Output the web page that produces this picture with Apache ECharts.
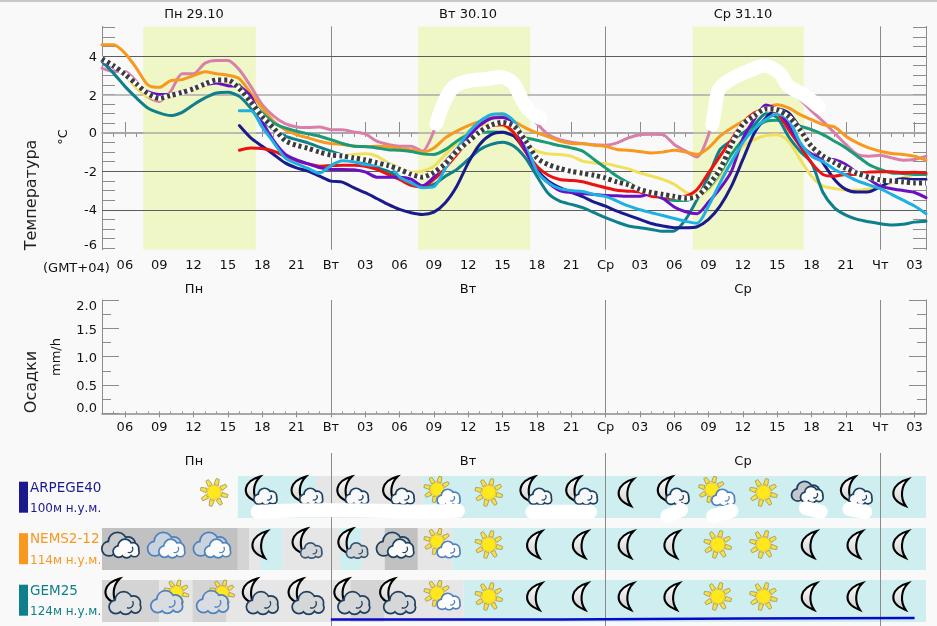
<!DOCTYPE html>
<html>
<head>
<meta charset="utf-8">
<style>html,body{margin:0;padding:0;background:#f9f9f9}#c{width:937px;height:626px}</style>
<script src="https://cdn.jsdelivr.net/npm/echarts@6/dist/echarts.min.js"></script>
</head>
<body>
<div id="c"></div>
<script>
// hours since Mon 00:00, one value per hour from 04 to 76
const hours = [];
for (let h = 4; h <= 76; h++) hours.push(h);
const n12 = new Array(12).fill(null);

const pink = [3.37,3.2,3.2,2.68,1.87,1.64,2.16,3.08,3.08,3.63,3.77,3.77,3.29,2.42,1.47,.87,.48,.31,.28,.31,.17,
  .17,.05,-.05,-.43,-.6,-.69,-.69,-.95,.09,
  1.8,2.5,2.7,2.8,2.85,2.85,2.3,1.3,.5,-.09,-.35,-.48,-.55,-.62,-.64,-.52,-.26,
  -.09,-.07,-.09,-.6,-.95,-1.25,-.1,2.2,2.75,3.1,3.3,3.45,3.15,2.4,1.75,1.15,.6,0,-.6,-1.12,-1.21,-1.16,-1.3,-1.42,-1.38,-1.21];
const orange = [4.58,4.58,4.15,3.37,2.5,2.37,2.72,2.77,2.98,3.18,3.08,3.0,2.82,2.07,1.3,.6,.17,-.09,-.26,-.43,-.55,
  -.6,-.68,-.72,-.7,-.72,-.8,-.88,-1.0,-.78,
  -.26,.09,.38,.6,.78,.87,.6,.26,0,-.2,-.43,-.55,-.57,-.64,-.7,-.86,-.9,
  -.97,-1.04,-1.0,-.9,-1.0,-1.12,-.78,-.17,.26,.6,.95,1.3,1.47,1.3,.95,.69,.43,.31,-.17,-.52,-.78,-.95,-1.07,-1.12,-1.21,-1.42];
const teal = [3.72,3.11,2.42,1.82,1.3,1.04,.9,1.07,1.47,1.82,2.08,2.11,1.9,1.3,.69,.17,-.17,-.35,-.52,-.74,-.95,
  -1.15,-1.35,-1.55,-1.8,-2,-2.3,-2.6,-2.8,
  -2.68,-2.25,-1.9,-1.38,-.87,-.6,-.48,-.69,-1.3,-2.25,-3.15,-3.55,-3.72,-3.89,-4.15,-4.41,-4.64,-4.84,
  -4.93,-5.02,-5.12,-5.1,-4.5,-3.46,-2.25,-.87,-.4,0,.43,1.0,.8,-.2,-.95,-1.55,-3.1,-3.9,-4.28,-4.5,-4.62,-4.72,-4.79,-4.75,-4.64,-4.6];
const green = n12.concat([2.5,1.73,1.04,.52,.26,.09,-.05,-.17,-.35,
  -.55,-.69,-.71,-.78,-.87,-.9,-.97,-1.09,-1.12,
  -.87,-.43,-.09,.03,.05,.03,-.14,-.26,-.38,-.52,-.66,-.78,-.95,-1.38,-1.82,-2.25,-2.6,
  -2.94,-3.2,-3.41,-3.51,-3.51,-3.29,-2.85,-2.08,-1.12,-.35,.26,.6,.66,.48,.35,.17,-.09,-.43,-.78,-1.21,-1.64,-1.9,-2.08,-2.11,-2.16,-2.16]);
const red = n12.concat([-.9,-.78,-.81,-.95,-1.21,-1.44,-1.61,-1.73,-1.7,
  -1.68,-1.68,-1.73,-1.9,-2.16,-2.42,-2.73,-2.82,-2.42,
  -1.82,-1.12,-.43,.09,.38,.43,0,-.95,-1.73,-2.2,-2.42,-2.47,-2.54,-2.7,-2.85,-2.98,-3.03,
  -3.08,-3.29,-3.33,-3.37,-3.29,-2.94,-2.08,-1.21,-.35,.52,1.04,1.21,1.04,.17,-.69,-1.56,-2.16,-2.25,-2.16,-2.16,-2.04,-2.02,-2.02,-2.08,-2.05,-2.08]);
const navy = n12.concat([.38,-.26,-.69,-1.12,-1.56,-1.82,-1.99,-2.25,-2.51,
  -2.56,-2.85,-3.11,-3.41,-3.72,-3.98,-4.15,-4.24,-4.12,
  -3.63,-2.77,-1.56,-.6,-.09,.03,-.17,-.95,-1.9,-2.51,-2.85,-3.08,-3.32,-3.6,-3.81,-4.07,-4.29,
  -4.5,-4.71,-4.84,-4.93,-4.93,-4.88,-4.5,-3.81,-2.77,-1.38,0,.78,1.25,1.04,.26,-.69,-1.56,-2.42,-2.94,-3.08,-3.06,-2.8,-2.51,-2.39,-2.42,-2.42]);
const yellow = [3.89,3.55,3.03,2.34,1.9,1.76,1.87,2.08,2.21,2.46,2.6,2.56,2.34,1.73,.95,.26,-.35,-.6,-.73,-.95,-1.12,
  -1.2,-1.12,-1.09,-1.21,-1.56,-1.82,-2.04,-1.99,-1.73,
  -1.12,-.52,.09,.38,.43,.38,0,-.52,-.95,-1.09,-1.12,-1.21,-1.47,-1.56,-1.59,-1.73,-1.87,
  -2.08,-2.25,-2.42,-2.68,-3.08,-3.3,-2.94,-2.25,-1.56,-.69,-.35,-.14,-.09,-.43,-1.38,-2.25,-2.77,-2.89,-2.98,-2.98,-2.91,-2.77,-2.6,-2.34,-2.16,-2.16];
const purple = [3.8,3.4,3.0,2.5,2.15,2.0,2.0,2.15,2.3,2.5,2.6,2.45,2.4,1.9,.6,-.4,-1.1,-1.4,-1.6,-1.8,-1.9,
  -1.9,-1.92,-2.03,-2.3,-2.3,-2.3,-2.4,-2.75,-2.3,
  -1.5,-.85,-.2,.4,.75,.8,.5,-.9,-2.0,-2.6,-3,-3.1,-3.15,-3.2,-3.25,-3.27,-3.3,
  -3.3,-3.15,-3.4,-3.85,-4.1,-4.2,-3.6,-2.9,-2,-.3,.7,1.45,1.2,.4,-.6,-1.1,-1.35,-1.4,-1.64,-2.08,-2.4,-2.77,-2.9,-3.0,-3.1,-3.37];
const skyblue = n12.concat([1.15,1.15,.3,-.5,-1.3,-1.6,-1.85,-2.1,-1.7,
  -1.45,-1.5,-1.65,-1.7,-1.6,-2.3,-2.6,-2.85,-2.8,
  -1.85,-.85,0,.6,.95,1.0,.6,-.5,-2.0,-2.6,-2.9,-3.0,-3.05,-3.2,-3.3,-3.55,-3.8,
  -4,-4.15,-4.3,-4.45,-4.6,-4.7,-3.8,-2.6,-1.5,-.5,.2,.7,1.0,.7,-.5,-1.2,-1.5,-1.9,-2.2,-2.5,-2.7,-2.9,-3.2,-3.5,-3.8,-4.2]);
const mean = [3.85,3.5,3.05,2.55,2.05,1.8,1.95,2.1,2.3,2.55,2.75,2.75,2.3,1.6,.85,.25,-.4,-.65,-.8,-1.0,-1.15,
  -1.2,-1.3,-1.4,-1.55,-1.7,-1.9,-2.15,-2.3,-2.05,
  -1.6,-.95,-.45,.05,.4,.55,.35,-.4,-1.3,-1.65,-1.85,-2.0,-2.1,-2.2,-2.35,-2.55,-2.7,
  -2.95,-3.1,-3.2,-3.3,-3.4,-3.3,-2.7,-1.9,-.6,.45,.9,1.25,1.2,.85,.15,-.7,-1.2,-1.55,-1.85,-2.1,-2.3,-2.45,-2.5,-2.55,-2.6,-2.6];

// white scribbles over the picture, [hour, degC] pairs
const scribbleTue = [[33.2,.48],[34,1.73],[34.8,2.42],[36.2,2.73],[37.6,2.8],[38.8,2.91],[39.9,2.6],[40.7,1.73],[41.4,1.12],[42.3,.78]];
const scribbleWed = [[57.33,.43],[57.5,1.04],[57.9,2.25],[58.9,2.77],[60.4,3.2],[61.85,3.49],[63.2,3.11],[64,2.42],[65.3,1.99],[66.66,1.35]];
// same in the icon strip, [hour, row units], null splits strokes
const scribbleIcons = [[17.6,.69],[21.3,.66],[26.5,.66],[31.7,.69],[35.1,.67],null,
  [41.6,.69],[46.66,.69],null,[53.4,.77],[54.6,.65],null,[57.4,.77],[59,.67],null,
  [65.5,.615],[66.8,.69],null,[69.3,.635],[70.7,.69]];

const dayBands = [[7.6,17.44],[31.62,41.41],[55.63,65.33]];
const dayLines = [24,48,72];
const darkGrid = [4,-2,-4];
const lightGrid = [2,0];
// tick labels sit a little off their ticks in the original, hence separate positions
const tempLabelAt = [-5.88,-4.04,-2.07,-.06,1.91,3.89];
const tempLabels = ['-6','-4','-2','0','2','4'];
const tempTicks = [-6,-5.5,-5,-4.5,-4,-3.5,-3,-2.5,-2,-1.5,-1,-.5,0,.5,1,1.5,2,2.5,3,3.5,4,4.5,5,5.5];
const rainLabelAt = [.078,.47,.97,1.46,1.89];
const rainLabels = ['0.0','0.5','1.0','1.5','2.0'];
const rainMajor = [0,.5,1,1.5,2];
const rainMinor = [.25,.75,1.25,1.75];
const tickHours = [6,9,12,15,18,21,24,27,30,33,36,39,42,45,48,51,54,57,60,63,66,69,72,75];
const tickNames = ['06','09','12','15','18','21','Вт','03','06','09','12','15','18','21','Ср','03','06','09','12','15','18','21','Чт','03'];
const dayTitles = ['Пн 29.10','Вт 30.10','Ср 31.10'];
const dayNames = ['Пн','Вт','Ср'];
const dayCentres = [194,468,743];

const models = ['ARPEGE40','NEMS2-12','GEM25'];
const heights = ['100м н.у.м.','114м н.у.м.','124м н.у.м.'];
const modelColors = ['#1a1a8c','#f7981f','#0f7f8c'];

// sky background per model row: [from, to, shade]
const shades = {clear:'#cfeeef', light:'#e6e6e6', mid:'#d4d4d4', dark:'#c1c1c1'};
const cellsArpege = [[15.87,22.7,'clear'],[22.7,32,'light'],[32,76,'clear']];
const cellsNems = [[4,15.87,'dark'],[15.87,16.85,'mid'],[16.85,17.8,'light'],[17.8,19.8,'clear'],[19.8,24.8,'light'],[24.8,26.7,'clear'],[26.7,28.7,'light'],[28.7,31.6,'dark'],[31.6,34.6,'light'],[34.6,76,'clear']];
const cellsGem = [[4,9,'mid'],[9,11.9,'light'],[11.9,14.9,'mid'],[14.9,25.7,'light'],[25.7,28.7,'mid'],[28.7,35.6,'light'],[35.6,76,'clear']];

const iconHours = [5.8,9.8,13.8,17.8,21.8,25.8,29.8,33.8,37.8,41.8,45.8,49.8,53.8,57.8,61.8,65.8,69.8,73.8];
const iconsArpege = [null,null,'sun','moonCloud','moonCloud','moonCloud','moonCloud','sunCloud','sun','moonCloud','moonCloud','moon','moonCloud','sunCloud','sun','greyClouds','moonCloud','moon'];
const iconsNems = ['darkClouds','blueClouds','blueClouds','moon','moonSmall','moonSmall','darkClouds','sunCloud','sun','moon','moon','moon','moon','sun','sun','moon','moon','moon'];
const iconsGem = ['moonBig','cloudSun','cloudSun','moonBig','moonBig','moonBig','moonBig','sunCloud','sun','moon','moon','moon','moon','sun','sun','moon','moon','moon'];

const blueLine = [[24,2.76],[44,2.76],[60,2.74],[75,2.73]];

const font = 'DejaVu Sans';
const tickColor = '#8c8c8c';
const rows = [cellsArpege,cellsNems,cellsGem];
const iconRows = [iconsArpege,iconsNems,iconsGem];
const rowH = 0.808, iconY = 0.317;

const cellData = [];
rows.forEach((r,i)=> r.forEach(c=> cellData.push([c[0],c[1],i,shades[c[2]]])));
const iconData = [];
iconRows.forEach((r,i)=> r.forEach((k,j)=>{ if(k) iconData.push([iconHours[j],i+iconY,k]); }));

// ---- icon pieces ----
function sun(cx,cy,s){
  const out = [];
  for (let i=0;i<8;i++){
    const a = (i*45+15)*Math.PI/180, r0 = 7.8*s, r1 = 14*s, w0 = 2.3*s, w1 = 1.5*s;
    const c = Math.cos(a), d = Math.sin(a);
    out.push({type:'polygon',shape:{points:[[cx+c*r0-d*w0,cy+d*r0+c*w0],[cx+c*r1-d*w1,cy+d*r1+c*w1],[cx+c*r1+d*w1,cy+d*r1-c*w1],[cx+c*r0+d*w0,cy+d*r0-c*w0]]},
      style:{fill:'#f8e04a',stroke:'#9a9455',lineWidth:.8}});
  }
  out.push({type:'circle',shape:{cx,cy,r:7*s},style:{fill:'#ffe81c',stroke:'#f2c62a',lineWidth:1}});
  return out;
}
function cloud(cx,cy,s,stroke,fill){
  const lobes = [[-7.5,3,4.6],[-1.5,-2,6],[6,0,4.8],[7.5,3.5,3.6],[0,3.5,4.6]];
  const out = [];
  lobes.forEach(l=> out.push({type:'circle',shape:{cx:cx+l[0]*s,cy:cy+l[1]*s,r:l[2]*s+1.7},style:{fill:stroke}}));
  lobes.forEach(l=> out.push({type:'circle',shape:{cx:cx+l[0]*s,cy:cy+l[1]*s,r:l[2]*s},style:{fill}}));
  out.push({type:'arc',shape:{cx:cx+2.5*s,cy:cy+.5*s,r:3.4*s,startAngle:-.6,endAngle:2},style:{stroke,lineWidth:1.3,fill:'none'}});
  return out;
}
const moonFill = new echarts.graphic.LinearGradient(0,0,0,1,[{offset:0,color:'#ffffff'},{offset:1,color:'#cfcfcf'}]);
function moon(cx,cy,s){
  const w = 15*s, h = 27*s;
  return [{type:'path',shape:{pathData:'M14 0C2 4-3 20 12 28C8 20 8 8 14 0Z',x:cx-w/2,y:cy-h/2,width:w,height:h,layout:'cover'},
    style:{fill:moonFill,stroke:'#000',lineWidth:2.1}}];
}
function drawIcon(kind,x,y){
  const dark = '#1f3f5f', blue = '#4f81bd';
  switch(kind){
    case 'sun': return sun(x,y,1);
    case 'moon': return moon(x,y,1);
    case 'sunCloud': return sun(x-6,y-3,.95).concat(cloud(x+6,y+5,.92,blue,'#fff'));
    case 'moonCloud': return moon(x-7,y-3,.95).concat(cloud(x+6,y+4,.92,dark,'#f6f8fa'));
    case 'moonSmall': return moon(x-6,y-3,.95).concat(cloud(x+6,y+6,.85,'#38556f','#d4d7da'));
    case 'moonBig': return moon(x-10,y-5,.95).concat(cloud(x+3,y+6.5,1.3,dark,'#d5d7d9'));
    case 'cloudSun': return sun(x+8,y-4,.9).concat(cloud(x-1,y+5.5,1.3,blue,'#d9dde1'));
    case 'darkClouds': return cloud(x-3,y,1.4,dark,'#c9cacb').concat(cloud(x+4,y+4,1.05,dark,'#fbfbfb'));
    case 'blueClouds': return cloud(x-3,y,1.4,blue,'#c9d3de').concat(cloud(x+4,y+4,1.05,blue,'#fbfbfb'));
    case 'greyClouds': return cloud(x-3,y-1,1.15,dark,'#c3c8ce').concat(cloud(x+3,y+2,.9,dark,'#fbfbfb'));
  }
  return [];
}

function lineSeries(data,color,z,width){
  return {type:'line',xAxisIndex:0,yAxisIndex:0,data:hours.map((h,i)=>[h,data[i]]),showSymbol:false,smooth:.25,z,
    lineStyle:{color,width:width||3,cap:'round'},silent:true,connectNulls:false};
}

const chart = echarts.init(document.getElementById('c'),null,{renderer:'canvas'});
chart.setOption({
  animation:false,
  backgroundColor:'#f9f9f9',
  textStyle:{fontFamily:font},
  grid:[
    {left:102,top:26.4,width:824,height:223.4},
    {left:102,top:300,width:824,height:113.4},
    {left:102,top:453,width:824,height:173}
  ],
  xAxis:[
    {gridIndex:0,type:'value',min:4,max:76,splitLine:{show:false},
      axisLine:{lineStyle:{color:tickColor,width:1.5}},
      axisTick:{inside:true,length:11,lineStyle:{color:tickColor},customValues:tickHours},
      axisLabel:{customValues:tickHours,margin:9,color:'#111',fontSize:13,fontFamily:font,formatter:v=>tickNames[tickHours.indexOf(v)]}},
    {gridIndex:0,type:'value',min:4,max:76,splitLine:{show:false},axisLine:{show:false},
      axisTick:{inside:true,length:4,lineStyle:{color:tickColor},customValues:hours},axisLabel:{show:false}},
    {gridIndex:1,type:'value',min:4,max:76,splitLine:{show:false},
      axisLine:{lineStyle:{color:tickColor,width:1.5}},
      axisTick:{length:4,lineStyle:{color:tickColor},customValues:tickHours},
      axisLabel:{customValues:tickHours,margin:8,color:'#111',fontSize:13,fontFamily:font,formatter:v=>tickNames[tickHours.indexOf(v)]}},
    {gridIndex:1,type:'value',min:4,max:76,splitLine:{show:false},axisLine:{show:false},
      axisTick:{length:2,lineStyle:{color:tickColor},customValues:hours},axisLabel:{show:false}},
    {gridIndex:2,type:'value',min:4,max:76,show:false}
  ],
  yAxis:[
    {gridIndex:0,type:'value',min:-6.08,max:5.54,splitLine:{show:false},
      axisLine:{show:true,lineStyle:{color:tickColor}},
      axisTick:{show:true,inside:true,length:13,lineStyle:{color:tickColor},customValues:tempTicks},
      axisLabel:{customValues:tempLabelAt,color:'#111',fontSize:13,fontFamily:font,margin:5,formatter:v=>tempLabels[tempLabelAt.indexOf(v)]}},
    {gridIndex:0,type:'value',position:'right',min:-6.08,max:5.54,splitLine:{show:false},
      axisLine:{show:true,lineStyle:{color:tickColor}},
      axisTick:{show:true,inside:true,length:13,lineStyle:{color:tickColor},customValues:tempTicks},
      axisLabel:{show:false}},
    {gridIndex:1,type:'value',position:'left',min:0,max:2,splitLine:{show:false},
      axisLine:{show:true,lineStyle:{color:tickColor}},
      axisTick:{show:true,inside:true,length:17,lineStyle:{color:tickColor},customValues:rainMajor},
      axisLabel:{customValues:rainLabelAt,color:'#111',fontSize:13,fontFamily:font,margin:5,formatter:v=>rainLabels[rainLabelAt.indexOf(v)]}},
    {gridIndex:1,type:'value',position:'left',min:0,max:2,splitLine:{show:false},axisLine:{show:false},
      axisTick:{show:true,inside:true,length:9,lineStyle:{color:tickColor},customValues:rainMinor},axisLabel:{show:false}},
    {gridIndex:2,type:'value',min:-.442,max:2.885,inverse:true,show:false},
    {gridIndex:1,type:'value',position:'right',min:0,max:2,splitLine:{show:false},
      axisLine:{show:true,lineStyle:{color:tickColor}},
      axisTick:{show:true,inside:true,length:17,lineStyle:{color:tickColor},customValues:rainMajor},axisLabel:{show:false}},
    {gridIndex:1,type:'value',position:'right',min:0,max:2,splitLine:{show:false},axisLine:{show:false},
      axisTick:{show:true,inside:true,length:9,lineStyle:{color:tickColor},customValues:rainMinor},axisLabel:{show:false}}
  ],
  series:[
    // temperature panel frame: day bands, day lines, grid lines
    {type:'line',xAxisIndex:0,yAxisIndex:0,data:[],z:1,silent:true,
      markArea:{silent:true,z:1,itemStyle:{color:'#eff7c6'},data:dayBands.map(b=>[{xAxis:b[0]},{xAxis:b[1]}])},
      markLine:{silent:true,z:3,symbol:'none',label:{show:false},animation:false,
        data:dayLines.map(x=>({xAxis:x,lineStyle:{color:'#8a8a8a',width:1,type:'solid'}}))
          .concat(darkGrid.map(y=>({yAxis:y,lineStyle:{color:'#5c5c5c',width:1,type:'solid'}})))
          .concat(lightGrid.map(y=>({yAxis:y,lineStyle:{color:'#a8a8a8',width:1.5,type:'solid'}})))}},
    lineSeries(pink,'#d97fab',10),
    lineSeries(orange,'#f7981f',11),
    lineSeries(yellow,'#f0e05a',12),
    lineSeries(green,'#1b9a78',13),
    lineSeries(teal,'#0f7f8c',14),
    lineSeries(navy,'#1a1a8c',15),
    lineSeries(red,'#ee1111',16),
    lineSeries(purple,'#6a10c4',17),
    lineSeries(skyblue,'#1fb0e2',18),
    lineSeries(mean,'#ffffff',19,5),
    Object.assign(lineSeries(mean,'#3c3c3c',20,5),{lineStyle:{color:'#3c3c3c',width:5,type:[3,3],cap:'butt'}}),
    {type:'line',xAxisIndex:0,yAxisIndex:0,data:scribbleTue,showSymbol:false,smooth:.3,z:30,silent:true,lineStyle:{color:'#fff',width:14,cap:'round',join:'round'}},
    {type:'line',xAxisIndex:0,yAxisIndex:0,data:scribbleWed,showSymbol:false,smooth:.3,z:30,silent:true,lineStyle:{color:'#fff',width:14,cap:'round',join:'round'}},
    // precipitation panel is empty apart from its day lines
    {type:'line',xAxisIndex:2,yAxisIndex:2,data:[],z:1,silent:true,
      markLine:{silent:true,z:3,symbol:'none',label:{show:false},animation:false,
        data:dayLines.map(x=>({xAxis:x,lineStyle:{color:'#8a8a8a',width:1,type:'solid'}}))}},
    // model rows
    {type:'custom',xAxisIndex:4,yAxisIndex:4,data:cellData,z:1,silent:true,encode:{x:[0,1],y:2},
      renderItem:(p,api)=>{
        const d = cellData[p.dataIndex];
        const a = api.coord([d[0],d[2]]), b = api.coord([d[1],d[2]+rowH]);
        return {type:'rect',shape:{x:a[0],y:a[1],width:b[0]-a[0],height:b[1]-a[1]},style:{fill:d[3]}};
      }},
    {type:'line',xAxisIndex:4,yAxisIndex:4,data:[],z:2,silent:true,
      markLine:{silent:true,z:3,symbol:'none',label:{show:false},animation:false,
        data:dayLines.map(x=>({xAxis:x,lineStyle:{color:'#8a8a8a',width:1,type:'solid'}}))}},
    {type:'custom',xAxisIndex:4,yAxisIndex:4,data:iconData.map(d=>[d[0],d[1]]),z:4,silent:true,encode:{x:0,y:1},
      renderItem:(p,api)=>{
        const d = iconData[p.dataIndex];
        const c = api.coord([d[0],d[1]]);
        return {type:'group',children:drawIcon(d[2],c[0],c[1])};
      }},
    {type:'line',xAxisIndex:4,yAxisIndex:4,data:scribbleIcons.map(p=>p||[null,null]),showSymbol:false,smooth:false,z:30,silent:true,connectNulls:false,
      lineStyle:{color:'#fff',width:14,cap:'round',join:'round'}},
    {type:'line',xAxisIndex:4,yAxisIndex:4,data:blueLine,showSymbol:false,z:6,silent:true,lineStyle:{color:'#0808cc',width:2.5}}
  ],
  graphic:[
    {type:'rect',shape:{x:0,y:0,width:937,height:2},style:{fill:'#c9c9c9'},silent:true},
    ...dayTitles.map((t,i)=>({type:'text',x:dayCentres[i],y:15,style:{text:t,font:'13px '+font,fill:'#111',align:'center',verticalAlign:'middle'}})),
    ...dayNames.map((t,i)=>({type:'text',x:dayCentres[i],y:290,style:{text:t,font:'13px '+font,fill:'#111',align:'center',verticalAlign:'middle'}})),
    ...dayNames.map((t,i)=>({type:'text',x:dayCentres[i],y:461.5,style:{text:t,font:'13px '+font,fill:'#111',align:'center',verticalAlign:'middle'}})),
    {type:'text',x:32,y:195,rotation:Math.PI/2,style:{text:'Температура',font:'16px '+font,fill:'#222',align:'center',verticalAlign:'middle'}},
    {type:'text',x:64,y:137,rotation:Math.PI/2,style:{text:'°C',font:'13px '+font,fill:'#111',align:'center',verticalAlign:'middle'}},
    {type:'text',x:43,y:269,style:{text:'(GMT+04)',font:'13px '+font,fill:'#111',align:'left',verticalAlign:'middle'}},
    {type:'text',x:32,y:382,rotation:Math.PI/2,style:{text:'Осадки',font:'16px '+font,fill:'#222',align:'center',verticalAlign:'middle'}},
    {type:'text',x:57,y:357,rotation:Math.PI/2,style:{text:'mm/h',font:'13px '+font,fill:'#111',align:'center',verticalAlign:'middle'}},
    ...models.flatMap((m,i)=>[
      {type:'rect',shape:{x:19,y:481.7+i*51.5,width:9,height:31},style:{fill:modelColors[i]}},
      {type:'text',x:30,y:488+i*51.5,style:{text:m,font:'13.5px '+font,fill:modelColors[i],align:'left',verticalAlign:'middle'}},
      {type:'text',x:30,y:509+i*51.5,style:{text:heights[i],font:'12px '+font,fill:modelColors[i],align:'left',verticalAlign:'middle'}}
    ])
  ]
});
</script>
</body>
</html>
